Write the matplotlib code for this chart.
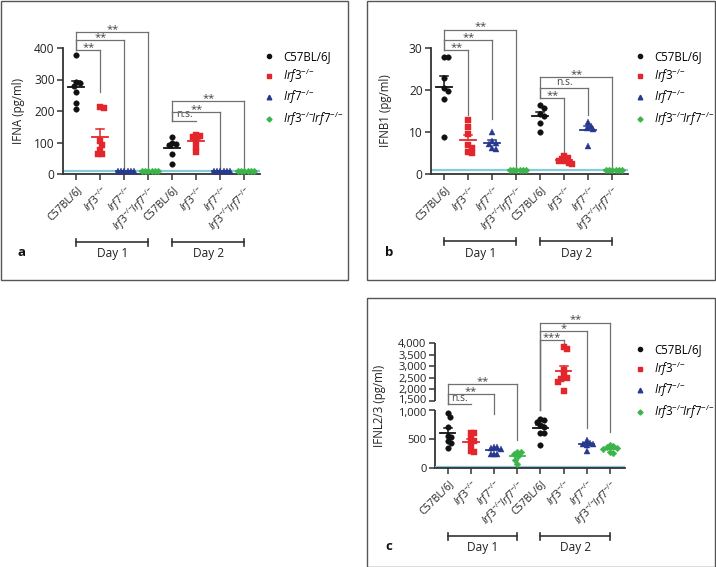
import numpy as np
import matplotlib
matplotlib.use('Agg')
import matplotlib.pyplot as plt
from matplotlib.lines import Line2D
from matplotlib.patches import Rectangle
import matplotlib.transforms as mtransforms

plt.rcParams['font.family'] = ['Open Sans', 'DejaVu Sans']
plt.rcParams['mathtext.fontset'] = 'custom'
plt.rcParams['mathtext.rm'] = 'Open Sans'
plt.rcParams['mathtext.it'] = 'Open Sans:italic'
plt.rcParams['mathtext.bf'] = 'Open Sans:bold'

# ---------------- data ----------------
tick_labels = ['C57BL/6J', r'$\mathit{Irf3}^{\mathit{{-}/{-}}}$', r'$\mathit{Irf7}^{\mathit{{-}/{-}}}$',
               r'$\mathit{Irf3}^{\mathit{{-}/{-}}}\!\mathit{Irf7}^{\mathit{{-}/{-}}}$'] * 2
legend_labels = tick_labels[:4]
day_labels = ['Day 1', 'Day 2']

# Panel a: IFNA (pg/ml)
a_c57_d1 = [377, 292, 288, 280, 259, 224, 206]
a_irf3_d1 = [214, 208, 105, 91, 75, 63, 63]
a_irf7_d1 = [11, 11, 11, 11, 11, 11]
a_dko_d1 = [11, 11, 11, 11, 11, 11]
a_c57_d2 = [116, 100, 95, 91, 65, 33]
a_irf3_d2 = [123, 120, 116, 105, 86, 70]
a_irf7_d2 = [11, 11, 11, 11, 11, 11]
a_dko_d2 = [11, 11, 11, 11, 11, 11]
a_limit = 11
a_yticks = [0, 100, 200, 300, 400]
# brackets: (group1, group2, height, left leg bottom, right leg bottom, label)
a_brackets = [(1, 2, 394, 394, 259, '**'), (1, 3, 426, 394, 17, '**'), (1, 4, 451, 394, 17, '**'),
              (5, 6, 169, None, None, 'n.s.'), (5, 7, 198, 169, 17, '**'), (5, 8, 233, 169, 17, '**')]

# Panel b: IFNB1 (pg/ml)
b_c57_d1 = [27.9, 27.9, 22.8, 20.4, 19.8, 17.8, 8.7]
b_irf3_d1 = [12.8, 11.2, 9.5, 7.0, 6.2, 5.2, 5.0]
b_irf7_d1 = [10.0, 7.8, 7.5, 7.2, 6.2, 6.0]
b_dko_d1 = [1.0, 1.0, 1.0, 1.0, 1.0, 1.0]
b_c57_d2 = [16.4, 15.6, 14.4, 13.8, 12.2, 10.0]
b_irf3_d2 = [4.4, 3.9, 3.5, 3.2, 3.0, 2.6, 2.5]
b_irf7_d2 = [12.4, 11.5, 11.0, 10.6, 6.7]
b_dko_d2 = [1.0, 1.0, 1.0, 1.0, 1.0, 1.0]
b_limit = 0.9
b_yticks = [0, 10, 20, 30]
b_brackets = [(1, 2, 29.6, 29.6, 14.0, '**'), (1, 3, 32.0, 29.6, 13.2, '**'), (1, 4, 34.4, 29.6, 1.7, '**'),
              (5, 6, 18.2, 18.2, 4.1, '**'), (5, 7, 20.4, 18.2, 14.0, 'n.s.'), (5, 8, 23.1, 18.2, 1.7, '**')]

# Panel c: IFNL2/3 (pg/ml)
c_c57_d1 = [945, 880, 700, 560, 540, 460, 440, 350]
c_irf3_d1 = [610, 600, 500, 460, 400, 300, 270]
c_irf7_d1 = [370, 360, 340, 330, 250, 250, 240]
c_dko_d1 = [280, 270, 240, 200, 140, 70]
c_c57_d2 = [840, 830, 800, 740, 700, 610, 600, 400]
c_irf3_d2 = [3830, 3760, 2850, 2620, 2470, 2430, 2330, 1940]
c_irf7_d2 = [480, 440, 420, 410, 390, 300]
c_dko_d2 = [400, 380, 360, 340, 320, 280, 260]
c_limit = 25
c_yticks = [0, 500, 1000, 1500, 2000, 2500, 3000, 3500, 4000]
c_ytick_labels = ['0', '500', '1,000', '1,500', '2,000', '2,500', '3,000', '3,500', '4,000']
c_brackets = [(1, 2, 1322, None, None, 'n.s.'), (1, 3, 1785, 1322, 940, '**'), (1, 4, 2215, 1322, 486, '**'),
              (5, 6, 4128, 1000, 4000, '***'), (5, 7, 4500, 1000, 686, '*'), (5, 8, 4885, 1000, 629, '**')]

# ---------------- styles ----------------
W, H = 716, 567
colors = ['#111111', '#e3262b', '#27398f', '#3bb54a']
markers = ['o', 's', '^', 'D']
msizes = [4.0, 3.8, 4.4, 3.4]
limit_color = '#86cbdb'
spine_color = '#333333'
br_color = '#707070'

fig = plt.figure(figsize=(W / 100, H / 100), dpi=100)


def px_rect(left, top, right, bottom):
    return [left / W, 1 - bottom / H, (right - left) / W, (bottom - top) / H]


# panel boxes
for (l, t, r, b) in [(0.5, 0.5, 348, 280), (366.5, 0.5, 715.3, 280), (366.5, 298, 715.3, 566.5)]:
    fig.add_artist(Rectangle((l / W, 1 - b / H), (r - l) / W, (b - t) / H, transform=fig.transFigure,
                             fill=False, ec='#555555', lw=1.0))


def swarm(ax, x0, ys, dxp=3.3, dyp=4.8, step=1.1):
    """Deterministic scatter spreading of points (pixel based), like a column scatter plot."""
    pts = []
    offs = []
    xpix_per_unit = ax.transData.transform((1, 0))[0] - ax.transData.transform((0, 0))[0]
    cand = [0.0]
    for i in range(1, 40):
        cand += [i * step, -i * step]
    for y in ys:
        yd = ax.transData.transform((x0, y))[1]
        for c in cand:
            ok = True
            for (px, py) in pts:
                if ((px - c) / dxp) ** 2 + ((py - yd) / dyp) ** 2 < 1:
                    ok = False
                    break
            if ok:
                pts.append((c, yd))
                offs.append(c / xpix_per_unit)
                break
    return np.array(offs)


def draw_panel(ax, groups, limit, brackets, ylabel, ylab_x, letter_px, day_y_px, legend_px, ax_px,
               ytick_size=8.6):
    left, top, right, bottom = ax_px
    axh = bottom - top
    ax.set_xlim(0.45, 8.65)
    for i, ys in enumerate(groups):
        gi = i % 4
        x0 = i + 1
        offs = swarm(ax, x0, ys)
        ax.plot(x0 + offs, ys, linestyle='none', marker=markers[gi], ms=msizes[gi],
                mfc=colors[gi], mec=colors[gi], mew=0.3, clip_on=False, zorder=4)
        ys_a = np.asarray(ys, dtype=float)
        m = ys_a.mean()
        sem = ys_a.std(ddof=1) / np.sqrt(len(ys_a))
        ax.plot([x0 - 0.33, x0 + 0.33], [m, m], color=colors[gi], lw=1.3, zorder=5, clip_on=False)
        if sem > 0:
            ax.plot([x0, x0], [m, m + sem], color=colors[gi], lw=1.1, zorder=5, clip_on=False)
            ax.plot([x0 - 0.17, x0 + 0.17], [m + sem, m + sem], color=colors[gi], lw=1.1, zorder=5,
                    clip_on=False)
    ax.axhline(limit, color=limit_color, lw=1.6, zorder=2)
    # significance brackets
    for (g1, g2, h, lb, rb, lab) in brackets:
        ax.plot([g1, g2], [h, h], color=br_color, lw=0.9, clip_on=False, zorder=3)
        if lb is not None:
            ax.plot([g1, g1], [h, lb], color=br_color, lw=0.9, clip_on=False, zorder=3)
        if rb is not None:
            ax.plot([g2, g2], [h, rb], color=br_color, lw=0.9, clip_on=False, zorder=3)
        if lab == 'n.s.':
            ax.annotate(lab, xy=((g1 + g2) / 2, h), xytext=(0, 0.3), textcoords='offset points',
                        ha='center', va='bottom', fontsize=7.4, color='#444444', annotation_clip=False)
        else:
            ax.annotate(lab, xy=((g1 + g2) / 2, h), xytext=(0, -2.2), textcoords='offset points',
                        ha='center', va='bottom', fontsize=8, color='#444444', annotation_clip=False)
    # axes styling
    ax.set_xticks(range(1, 9))
    ax.set_xticklabels(tick_labels, rotation=45, ha='right', rotation_mode='anchor', fontsize=7.6)
    for s in ['top', 'right']:
        ax.spines[s].set_visible(False)
    for s in ['left', 'bottom']:
        ax.spines[s].set_color(spine_color)
        ax.spines[s].set_linewidth(1.3)
    ax.tick_params(axis='both', direction='out', length=4, width=1.1, color=spine_color,
                   labelcolor='#222222', pad=2)
    ax.tick_params(axis='y', labelsize=ytick_size)
    ax.tick_params(axis='x', pad=3)
    ax.set_ylabel(ylabel, fontsize=8.3, color='#222222')
    ax.yaxis.set_label_coords(ylab_x, 0.5)
    # day brackets
    trans = mtransforms.blended_transform_factory(ax.transData, ax.transAxes)
    yb = (bottom - day_y_px) / axh
    cap = 3.5 / axh
    ytxt = (bottom - day_y_px - 12) / axh
    for d, (g1, g2) in enumerate([(1, 4), (5, 8)]):
        ax.plot([g1, g2], [yb, yb], transform=trans, color='#333333', lw=1.2, clip_on=False)
        for g in (g1, g2):
            ax.plot([g, g], [yb - cap, yb + cap], transform=trans, color='#333333', lw=1.2, clip_on=False)
        ax.text((g1 + g2) / 2, ytxt, day_labels[d], transform=trans, ha='center', va='center',
                fontsize=8.6, color='#222222')
    # panel letter
    fig.text(letter_px[0] / W, 1 - letter_px[1] / H, letter_px[2], fontsize=9.5, fontweight='bold',
             ha='left', va='center', color='#111111')
    # legend
    handles = [Line2D([], [], linestyle='none', marker=markers[i], ms=msizes[i] * 0.75, mfc=colors[i],
                      mec=colors[i]) for i in range(4)]
    ax.legend(handles, legend_labels, loc='upper left', bbox_to_anchor=(legend_px[0] / W, 1 - legend_px[1] / H),
              bbox_transform=fig.transFigure, frameon=False, fontsize=8.3, handlelength=0.6,
              handletextpad=0.9, labelspacing=0.3, borderpad=0, borderaxespad=0)


# ---------- panel a ----------
a_px = (63, 48, 260, 174)
axa = fig.add_axes(px_rect(*a_px))
axa.set_ylim(0, 400)
axa.set_yticks(a_yticks)
draw_panel(axa, [a_c57_d1, a_irf3_d1, a_irf7_d1, a_dko_d1, a_c57_d2, a_irf3_d2, a_irf7_d2, a_dko_d2],
           a_limit, a_brackets, 'IFNA (pg/ml)', -0.195, (17, 253, 'a'), 242, (266, 50), a_px)

# ---------- panel b ----------
b_px = (431, 48, 628, 174)
axb = fig.add_axes(px_rect(*b_px))
axb.set_ylim(0, 30)
axb.set_yticks(b_yticks)
draw_panel(axb, [b_c57_d1, b_irf3_d1, b_irf7_d1, b_dko_d1, b_c57_d2, b_irf3_d2, b_irf7_d2, b_dko_d2],
           b_limit, b_brackets, 'IFNB1 (pg/ml)', -0.198, (385, 253, 'b'), 241, (637, 50), b_px)


# ---------- panel c (broken axis via piecewise scale) ----------
def fwd(y):
    y = np.asarray(y, dtype=float)
    return np.where(y <= 1000, y, np.where(y <= 1500, 1000 + (y - 1000) * 0.32, 1160 + (y - 1500) * 0.4))


def inv(t):
    t = np.asarray(t, dtype=float)
    return np.where(t <= 1000, t, np.where(t <= 1160, 1000 + (t - 1000) / 0.32, 1500 + (t - 1160) / 0.4))


c_px = (435, 343, 625, 468)
axc = fig.add_axes(px_rect(*c_px))
axc.set_yscale('function', functions=(fwd, inv))
axc.set_ylim(0, 4000)
axc.set_yticks(c_yticks)
axc.set_yticklabels(c_ytick_labels)
axc.yaxis.set_minor_locator(matplotlib.ticker.NullLocator())
draw_panel(axc, [c_c57_d1, c_irf3_d1, c_irf7_d1, c_dko_d1, c_c57_d2, c_irf3_d2, c_irf7_d2, c_dko_d2],
           c_limit, c_brackets, 'IFNL2/3 (pg/ml)', -0.26, (385, 547, 'c'), 536, (637, 343), c_px,
           ytick_size=8.0)
axc.spines['left'].set_visible(False)
tl = mtransforms.blended_transform_factory(axc.transAxes, axc.transData)
for (y0, y1) in [(0, 1000), (1500, 4000)]:
    axc.plot([0, 0], [y0, y1], transform=tl, color=spine_color, lw=1.3, clip_on=False, solid_capstyle='butt')
axc.axhline(c_limit, color=limit_color, lw=2.2, zorder=2)

# separate the two labels at the axis break slightly
fig.canvas.draw()
for lab in axc.get_yticklabels():
    if lab.get_text() == '1,500':
        lab.set_transform(lab.get_transform() + mtransforms.ScaledTranslation(0, 1.3 / 72, fig.dpi_scale_trans))
    elif lab.get_text() == '1,000':
        lab.set_transform(lab.get_transform() + mtransforms.ScaledTranslation(0, -1.0 / 72, fig.dpi_scale_trans))

fig.savefig('out.png', dpi=100)
